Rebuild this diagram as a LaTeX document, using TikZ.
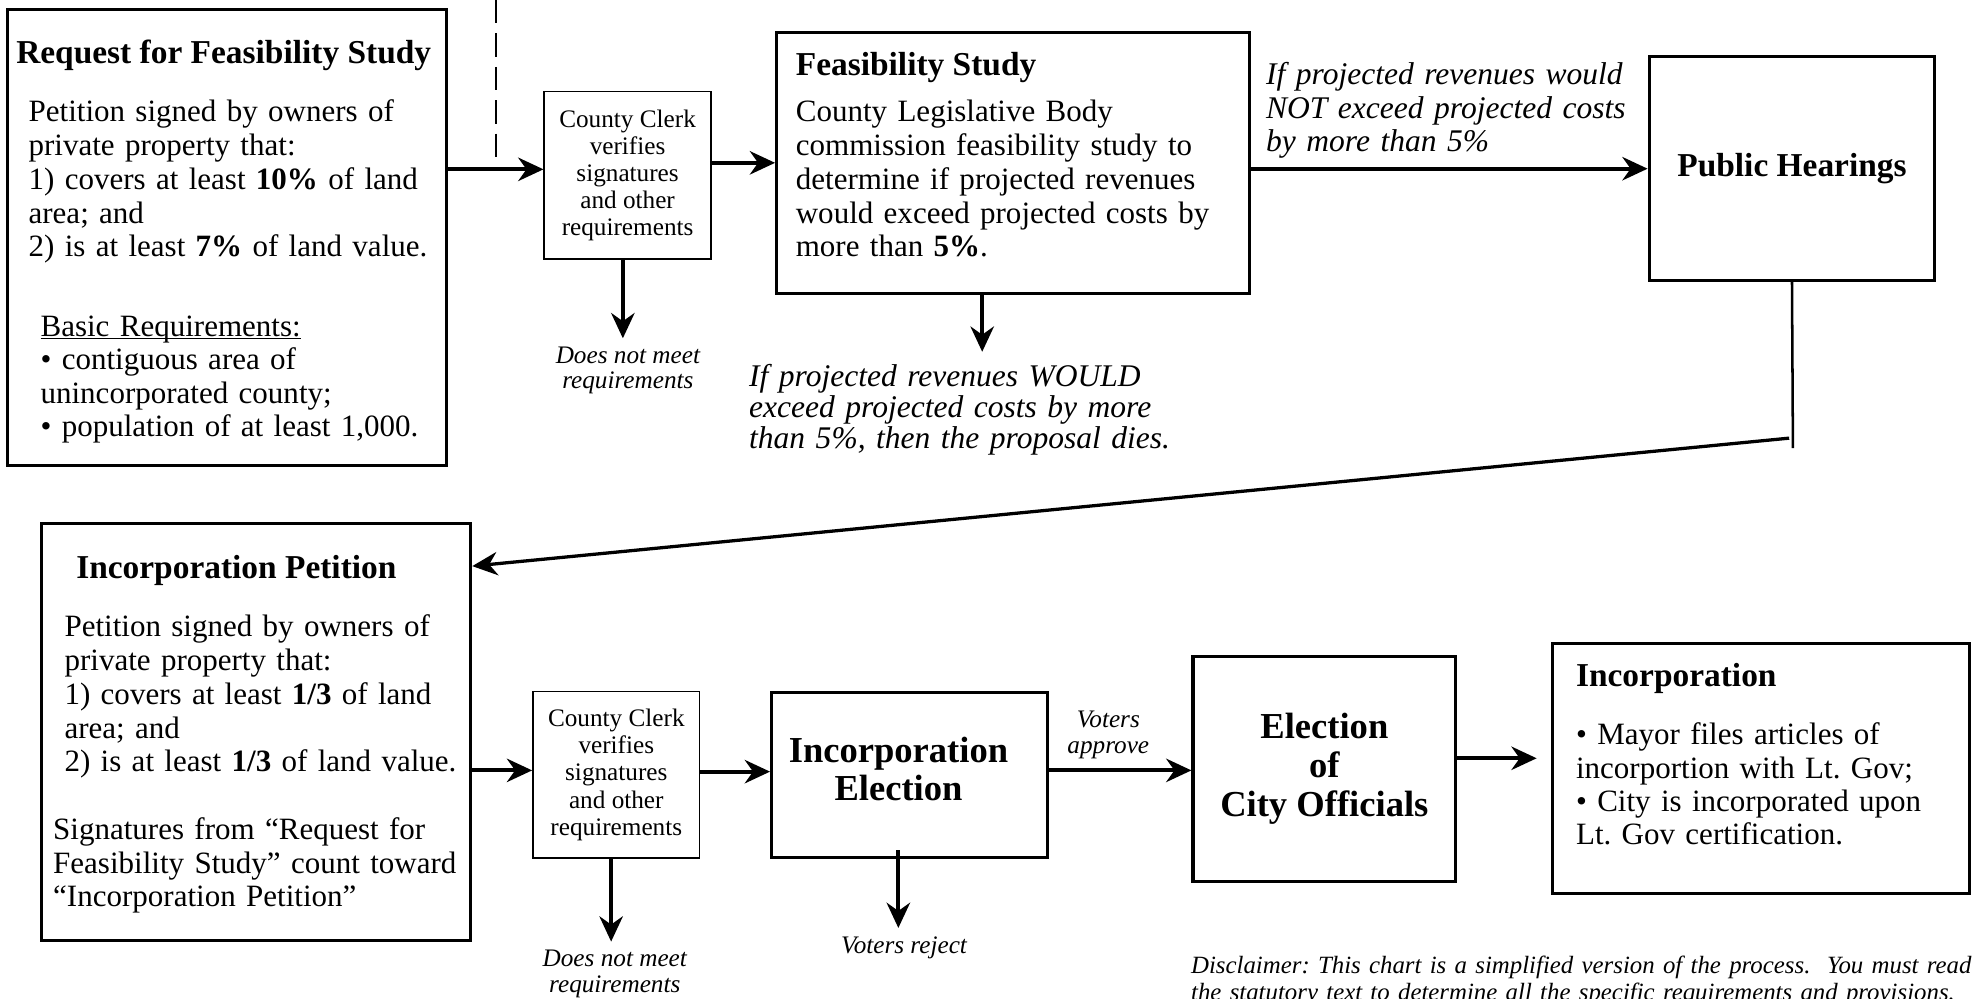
\documentclass[tikz,border=0pt]{standalone}
\usepackage{fontspec}
\setmainfont{Liberation Serif}
\usetikzlibrary{positioning, calc, arrows.meta}
\frenchspacing

\tikzset{
  bigbox/.style={draw, line width=2.5pt, inner sep=0pt, align=center},
  clerkbox/.style={draw, line width=1.3pt, inner sep=0pt, align=center,
    font=\fontsize{20}{21.5}\selectfont},
  ttl/.style={inner sep=0pt, font=\fontsize{26.5}{28}\selectfont\bfseries},
  bigttl/.style={inner sep=0pt, align=center, font=\fontsize{29}{30.5}\selectfont\bfseries},
  body/.style={inner sep=0pt, text width=400pt, align=left, font=\fontsize{24.6}{26.8}\selectfont},
  note/.style={inner sep=0pt, text width=400pt, align=left, font=\fontsize{25}{24.5}\selectfont\itshape},
  small/.style={inner sep=0pt, align=center, font=\fontsize{20}{20}\selectfont\itshape},
  flow/.style={-{Stealth[length=20pt, width=18.5pt, inset=6.5pt]}, line width=3.2pt},
}

\begin{document}
\begin{tikzpicture}[x=1pt, y=-1pt]
  \path[use as bounding box, fill=white] (0,0) rectangle (1568,792);

  \node[bigbox, minimum width=348.2pt, minimum height=361.6pt] (RFS) at (179.9,188.2) {};
  \node[clerkbox, minimum width=132.1pt, minimum height=132.7pt] (CC1) at (497.75,139.05)
    {County Clerk\\verifies\\signatures\\and other\\requirements};
  \node[bigbox, minimum width=375pt, minimum height=207.1pt] (FS) at (803.5,129.15) {};
  \node[bigbox, minimum width=226.5pt, minimum height=177.6pt, font=\fontsize{26.5}{28}\selectfont\bfseries] (PH) at (1421.25,133.8) {Public Hearings};

  \node[bigbox, minimum width=340.7pt, minimum height=331pt] (IP) at (202.95,580.5) {};
  \node[clerkbox, minimum width=132.2pt, minimum height=132.2pt] (CC2) at (488.8,614.6)
    {County Clerk\\verifies\\signatures\\and other\\requirements};
  \node[bigbox, minimum width=218.5pt, minimum height=130.7pt] (IE) at (721.25,614.65) {};
  \node[bigbox, minimum width=208.3pt, minimum height=178.5pt, font=\fontsize{29}{31}\selectfont\bfseries] (EC) at (1050.35,609.95)
    {Election\\of\\City Officials};
  \node[bigbox, minimum width=331pt, minimum height=197.7pt] (INC) at (1396.5,609.55) {};

  % box texts
  \node[ttl, anchor=base west] (RFSt) at (12.7,50) {Request for Feasibility Study};
  \node[body, anchor=base west] (RFSb) at (22.5,96.5)
    {Petition signed by owners of\\private property that:\\1) covers at least \textbf{10\%} of land\\area; and\\2) is at least \textbf{7\%} of land value.};
  \node[body, anchor=base west, font=\fontsize{24.6}{26.4}\selectfont] (RFSr) at (32,267)
    {\underline{\smash{Basic Requirements:}}\\\textbullet{} contiguous area of\\unincorporated county;\\\textbullet{} population of at least 1,000.};

  \node[ttl, anchor=base west] (FSt) at (631,59.5) {Feasibility Study};
  \node[body, anchor=base west] (FSb) at (631,96.5)
    {County Legislative Body\\commission feasibility study to\\determine if projected revenues\\would exceed projected costs by\\more than \textbf{5\%}.};

  \node[ttl, anchor=base west] (IPt) at (60.3,458.5) {Incorporation Petition};
  \node[body, anchor=base west] (IPb) at (51,505)
    {Petition signed by owners of\\private property that:\\1) covers at least \textbf{1/3} of land\\area; and\\2) is at least \textbf{1/3} of land value.};
  \node[body, anchor=base west, font=\fontsize{24.6}{26.5}\selectfont] (IPs) at (42,666)
    {Signatures from “Request for\\Feasibility Study” count toward\\“Incorporation Petition”};

  \node[bigttl] (IEt) at (712.6,610) {Incorporation\\Election};

  \node[ttl, anchor=base west] (INCt) at (1249.8,544.5) {Incorporation};
  \node[body, anchor=base west, font=\fontsize{24.6}{26.4}\selectfont] (INCb) at (1249.8,590.8)
    {\textbullet{} Mayor files articles of\\incorportion with Lt. Gov;\\\textbullet{} City is incorporated upon\\Lt. Gov certification.};

  % outcome labels
  \node[small] (DN1) at (498,294) {Does not meet\\requirements};
  \node[note, anchor=base west] (FSno) at (594,306.6)
    {If projected revenues WOULD\\exceed projected costs by more\\than 5\%, then the proposal dies.};
  \node[note, anchor=base west, font=\fontsize{25}{26.4}\selectfont\itshape] (FSyes) at (1004,67.4)
    {If projected revenues would\\NOT exceed projected costs\\by more than 5\%};
  \node[small] (DN2) at (487.6,772.5) {Does not meet\\requirements};
  \node[small] (VR) at (717,752) {Voters reject};
  \node[small, font=\fontsize{20}{21}\selectfont\itshape] (VA) at (879,583) {Voters\\approve};
  \node[note, anchor=base west, text width=700pt, font=\fontsize{19.7}{21.5}\selectfont\itshape] (DISC) at (944.5,772)
    {Disclaimer: This chart is a simplified version of the process.\ \ You must read\\the statutory text to determine all the specific requirements and provisions.};

  \coordinate (DSa) at (393.3,0);
  \coordinate (DSb) at (393.3,129.5);
  \coordinate (CC1x) at (494,268.3);
  \coordinate (FSx) at (779,279);
  \coordinate (PHend) at (1422,355.5);
  \coordinate (PHturn) at (1419,347.5);
  \coordinate (CC2x) at (484.7,746.8);
  \coordinate (IEx) at (712.5,736);

  \draw[line width=1.3pt, dash pattern=on 18.5pt off 8pt] (DSa) -- (DSb);

  \draw[flow] (RFS.east |- 0,134.3) -- (CC1.west |- 0,134.3);
  \draw[flow] (CC1.east |- FS.west) -- (FS.west);
  \draw[flow] (FS.east |- PH.west) -- (PH.west);
  \draw[flow] (CC1.south -| CC1x) -- (CC1x);
  \draw[flow] (FS.south -| FSx) -- (FSx);

  \draw[line width=2pt] (PH.south) -- (PHend);
  \draw[flow, line width=2.6pt] (PHturn) -- (IP.east |- 0,449);

  \draw[flow] (IP.east |- 0,611) -- (CC2.west |- 0,611);
  \draw[flow] (CC2.east |- 0,612) -- (IE.west |- 0,612);
  \draw[flow] (IE.east |- 0,611) -- (EC.west |- 0,611);
  \draw[flow, shorten >=11pt] (EC.east |- 0,601.4) -- (INC.west |- 0,601.4);
  \draw[flow] (CC2.south -| CC2x) -- (CC2x);
  \draw[flow] ($(IE.south -| IEx)+(0,-7)$) -- (IEx);
\end{tikzpicture}
\end{document}
